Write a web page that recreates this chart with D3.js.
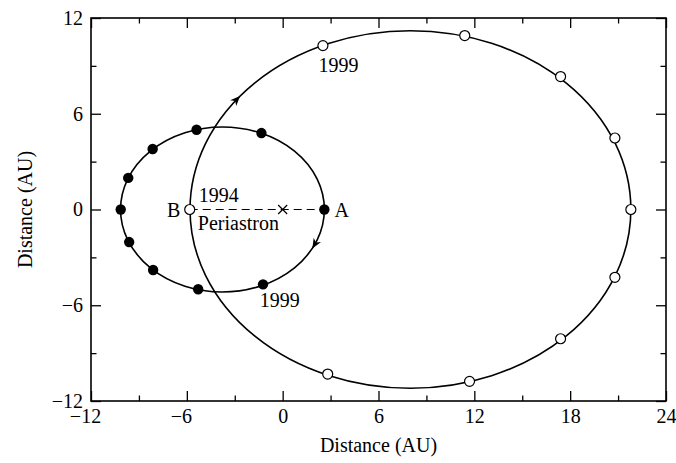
<!DOCTYPE html>
<html>
<head>
<meta charset="utf-8">
<script src="https://cdn.jsdelivr.net/npm/d3@7"></script>
<style>
  html, body { margin: 0; padding: 0; background: #fff; }
  svg { display: block; }
  text { font-family: "Liberation Serif", "Times New Roman", serif; fill: #000; }
</style>
</head>
<body>
<svg id="chart" width="676" height="463"></svg>
<script>
// ---- data ----
const xTicks = [-12, -6, 0, 6, 12, 18, 24];
const yTicks = [-12, -6, 0, 6, 12];
const xMinorTicks = [-9, -3, 3, 9, 15, 21];
const yMinorTicks = [-9, -3, 3, 9];

// orbits: 0 = small (filled dots), 1 = large (open dots)
const orbitCenterX = [-3.77, 8.0];
const orbitCenterY = [0, 0];
const orbitSemiX = [6.38, 13.8];
const orbitSemiY = [5.17, 11.2];

const filledX = [-10.14, -9.67, -8.14, -5.39, -1.33, 2.61, -1.23, -5.29, -8.11, -9.61];
const filledY = [0, 1.98, 3.79, 5.0, 4.79, 0, -4.69, -5.0, -3.79, -2.04];

const openX = [-5.82, 2.52, 11.4, 17.4, 20.8, 21.8, 20.8, 17.4, 11.7, 2.82];
const openY = [0, 10.27, 10.9, 8.33, 4.48, 0, -4.25, -8.1, -10.77, -10.31];

// periastron line B -> A and centre mark
const lineX = [-5.82, 2.61];
const lineY = [0, 0];
const crossX = [0];
const crossY = [0];

// direction arrows (orbit index, point on orbit)
const arrowOrbit = [1, 0];
const arrowX = [-2.9, 2.07];
const arrowY = [6.9, -2.2];

// annotations
const annText = ["B", "A", "1994", "Periastron", "1999", "1999"];
const annX = [-6.4, 3.25, -5.25, -5.31, -0.19, 3.5];
const annY = [-0.44, -0.44, 0.44, -1.31, -6.13, 8.64];
const annAnchor = ["end", "start", "start", "start", "middle", "middle"];

const xTitle = "Distance (AU)";
const yTitle = "Distance (AU)";

// ---- chart ----
const svg = d3.select("#chart");
const x = d3.scaleLinear().domain([-12, 24]).range([91, 666]);
const y = d3.scaleLinear().domain([-12, 12]).range([401, 18]);
const fmt = d => d < 0 ? "\u2212" + Math.abs(d) : String(d);

const x0 = x.range()[0], x1 = x.range()[1], y0 = y.range()[0], y1 = y.range()[1];

function styleAxis(g) {
  g.select(".domain").remove();
  g.selectAll(".tick line").attr("stroke", "#000").attr("stroke-width", 1.3);
  g.selectAll(".tick text").attr("font-size", 20).attr("font-family", "Liberation Serif, serif").attr("fill", "#000");
}

// major axes
svg.append("g").attr("transform", `translate(0,${y0})`)
  .call(d3.axisBottom(x).tickValues(xTicks).tickSize(-10).tickPadding(8).tickFormat(fmt))
  .call(styleAxis)
  .call(g => g.selectAll(".tick text").attr("dx", d => d < 0 ? -6 : 0));
svg.append("g").attr("transform", `translate(0,${y1})`)
  .call(d3.axisTop(x).tickValues(xTicks).tickSize(-10).tickFormat(""))
  .call(styleAxis);
svg.append("g").attr("transform", `translate(${x0},0)`)
  .call(d3.axisLeft(y).tickValues(yTicks).tickSize(-10).tickPadding(8).tickFormat(fmt))
  .call(styleAxis);
svg.append("g").attr("transform", `translate(${x1},0)`)
  .call(d3.axisRight(y).tickValues(yTicks).tickSize(-10).tickFormat(""))
  .call(styleAxis);

// minor ticks
svg.append("g").attr("transform", `translate(0,${y0})`)
  .call(d3.axisBottom(x).tickValues(xMinorTicks).tickSize(-5.5).tickFormat("")).call(styleAxis);
svg.append("g").attr("transform", `translate(0,${y1})`)
  .call(d3.axisTop(x).tickValues(xMinorTicks).tickSize(-5.5).tickFormat("")).call(styleAxis);
svg.append("g").attr("transform", `translate(${x0},0)`)
  .call(d3.axisLeft(y).tickValues(yMinorTicks).tickSize(-5.5).tickFormat("")).call(styleAxis);
svg.append("g").attr("transform", `translate(${x1},0)`)
  .call(d3.axisRight(y).tickValues(yMinorTicks).tickSize(-5.5).tickFormat("")).call(styleAxis);

// frame
svg.append("rect")
  .attr("x", x0).attr("y", y1).attr("width", x1 - x0).attr("height", y0 - y1)
  .attr("fill", "none").attr("stroke", "#000").attr("stroke-width", 1.6);

// orbits
svg.append("g").selectAll("ellipse").data(d3.range(orbitCenterX.length)).join("ellipse")
  .attr("cx", i => x(orbitCenterX[i]))
  .attr("cy", i => y(orbitCenterY[i]))
  .attr("rx", i => x(orbitCenterX[i] + orbitSemiX[i]) - x(orbitCenterX[i]))
  .attr("ry", i => y(orbitCenterY[i]) - y(orbitCenterY[i] + orbitSemiY[i]))
  .attr("fill", "none").attr("stroke", "#000").attr("stroke-width", 1.6);

// dashed periastron line
svg.append("line")
  .attr("x1", x(lineX[0])).attr("y1", y(lineY[0]))
  .attr("x2", x(lineX[1])).attr("y2", y(lineY[1]))
  .attr("stroke", "#000").attr("stroke-width", 1.2).attr("stroke-dasharray", "8,5");

// centre cross
const cross = svg.append("g").selectAll("path").data(d3.range(crossX.length)).join("path")
  .attr("d", i => {
    const cx = x(crossX[i]), cy = y(crossY[i]), s = 4.5;
    return `M${cx - s},${cy - s}L${cx + s},${cy + s}M${cx - s},${cy + s}L${cx + s},${cy - s}`;
  })
  .attr("stroke", "#000").attr("stroke-width", 1.2).attr("fill", "none");

// filled dots
svg.append("g").selectAll("circle").data(d3.range(filledX.length)).join("circle")
  .attr("cx", i => x(filledX[i])).attr("cy", i => y(filledY[i])).attr("r", 5.2)
  .attr("fill", "#000");

// open dots
svg.append("g").selectAll("circle").data(d3.range(openX.length)).join("circle")
  .attr("cx", i => x(openX[i])).attr("cy", i => y(openY[i])).attr("r", 5)
  .attr("fill", "#fff").attr("stroke", "#000").attr("stroke-width", 1.2);

// arrows (clockwise motion)
svg.append("g").selectAll("path").data(d3.range(arrowX.length)).join("path")
  .attr("d", "M0,0L-10,-4.2L-7,0L-10,4.2Z")
  .attr("fill", "#000")
  .attr("transform", i => {
    const o = arrowOrbit[i];
    const a = orbitSemiX[o], b = orbitSemiY[o], cx = orbitCenterX[o], cy = orbitCenterY[o];
    const t = Math.atan2((arrowY[i] - cy) / b, (arrowX[i] - cx) / a);
    const px = cx + a * Math.cos(t), py = cy + b * Math.sin(t);
    const ddx = a * Math.sin(t), ddy = -b * Math.cos(t);
    const sx = x(px + ddx * 0.01) - x(px), sy = y(py + ddy * 0.01) - y(py);
    const ang = Math.atan2(sy, sx) * 180 / Math.PI;
    return `translate(${x(px)},${y(py)}) rotate(${ang}) translate(5,0)`;
  });

// annotations
svg.append("g").selectAll("text").data(d3.range(annText.length)).join("text")
  .attr("x", i => x(annX[i])).attr("y", i => y(annY[i]))
  .attr("text-anchor", i => annAnchor[i])
  .attr("font-size", 20)
  .text(i => annText[i]);

// axis titles
svg.append("text")
  .attr("x", (x0 + x1) / 2).attr("y", 452)
  .attr("text-anchor", "middle").attr("font-size", 20)
  .text(xTitle);
svg.append("text")
  .attr("transform", `translate(32,${(y0 + y1) / 2}) rotate(-90)`)
  .attr("text-anchor", "middle").attr("font-size", 20)
  .text(yTitle);
</script>
</body>
</html>
